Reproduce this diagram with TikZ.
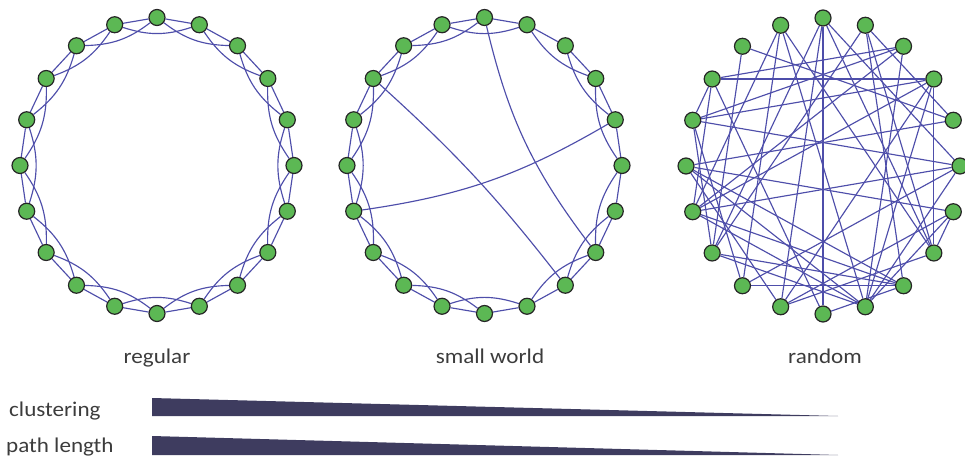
\documentclass[tikz,border=0pt]{standalone}
\usepackage{fontspec}
\setmainfont{Carlito}[FakeStretch=1.1]
\pgfdeclarelayer{edges}
\pgfsetlayers{edges,main}
\definecolor{nodegreen}{RGB}{92,184,84}
\definecolor{edgeblue}{RGB}{78,78,170}
\definecolor{wedgecol}{RGB}{62,60,95}
\definecolor{txtcol}{RGB}{60,60,60}
\begin{document}
\begin{tikzpicture}[x=1pt,y=1pt,
  gnode/.style={circle,draw=black!85,line width=1.2pt,fill=nodegreen,minimum size=16pt,inner sep=0pt},
  lk/.style={draw=edgeblue,line width=1.15pt},
  arcl/.style={lk,bend right=18},
  lbl/.style={text=txtcol,font=\fontsize{21}{24}\selectfont,inner sep=0pt}]
\useasboundingbox (0,0) rectangle (965,-460);

% nodes of the three networks (y measured downwards, so negated)
\foreach \k in {0,...,19} {
  \node[gnode] (r\k) at ({157+137*cos(90-18*\k)},{-165.5+148*sin(90-18*\k)}) {};
  \node[gnode] (s\k) at ({484.5+137.5*cos(90-18*\k)},{-165.5+148*sin(90-18*\k)}) {};
  \node[gnode] (x\k) at ({823+137*cos(90-18*\k)},{-166+148*sin(90-18*\k)}) {};
}

\begin{pgfonlayer}{edges}
% regular ring lattice
\foreach \k in {0,...,19} {
  \pgfmathtruncatemacro\a{mod(\k+1,20)}
  \pgfmathtruncatemacro\b{mod(\k+2,20)}
  \draw[lk] (r\k) -- (r\a);
  \draw[arcl] (r\k) to (r\b);
  \draw[lk] (s\k) -- (s\a);
}
% small world
\foreach \k in {1,2,3,5,6,7,9,10,11,12,13,14,15,16,17,18,19} {
  \pgfmathtruncatemacro\b{mod(\k+2,20)}
  \draw[arcl] (s\k) to (s\b);
}
\draw[lk] (s0) to[bend right=12] (s7);
\draw[lk] (s17) to[bend left=5] (s8);
\draw[lk] (s14) to[bend right=11] (s4);
% random
\foreach \i/\j in {0/10,0/5,0/13,0/11,0/7,1/7,1/4,1/8,1/13,2/17,2/16,2/14,2/9,
  3/17,3/7,3/14,3/11,3/9,3/16,4/18,4/15,5/16,5/14,5/12,5/9,6/15,6/7,6/9,6/11,
  7/11,7/19,8/12,8/13,8/14,9/19,9/14,9/13,9/15,10/17,11/15,12/19,13/18,14/17,
  16/17,14/19,15/8,16/13,10/8,12/16} {
  \draw[lk] (x\i) -- (x\j);
}
\end{pgfonlayer}

% labels
\node[lbl,anchor=base] (tregular) at (157,-363) {regular};
\node[lbl,anchor=base] (tsmall) at (490,-363) {small world};
\node[lbl,anchor=base] (trandom) at (825,-363) {random};
\node[lbl,anchor=base west] (tclust) at (9,-416) {clustering};
\node[lbl,anchor=base west] (tpath) at (6,-452) {path length};

% wedges
\fill[wedgecol] (152,-398) -- (838,-416) -- (152,-416) -- cycle;
\fill[wedgecol] (152,-436) -- (838,-455) -- (152,-455) -- cycle;
\end{tikzpicture}
\end{document}
